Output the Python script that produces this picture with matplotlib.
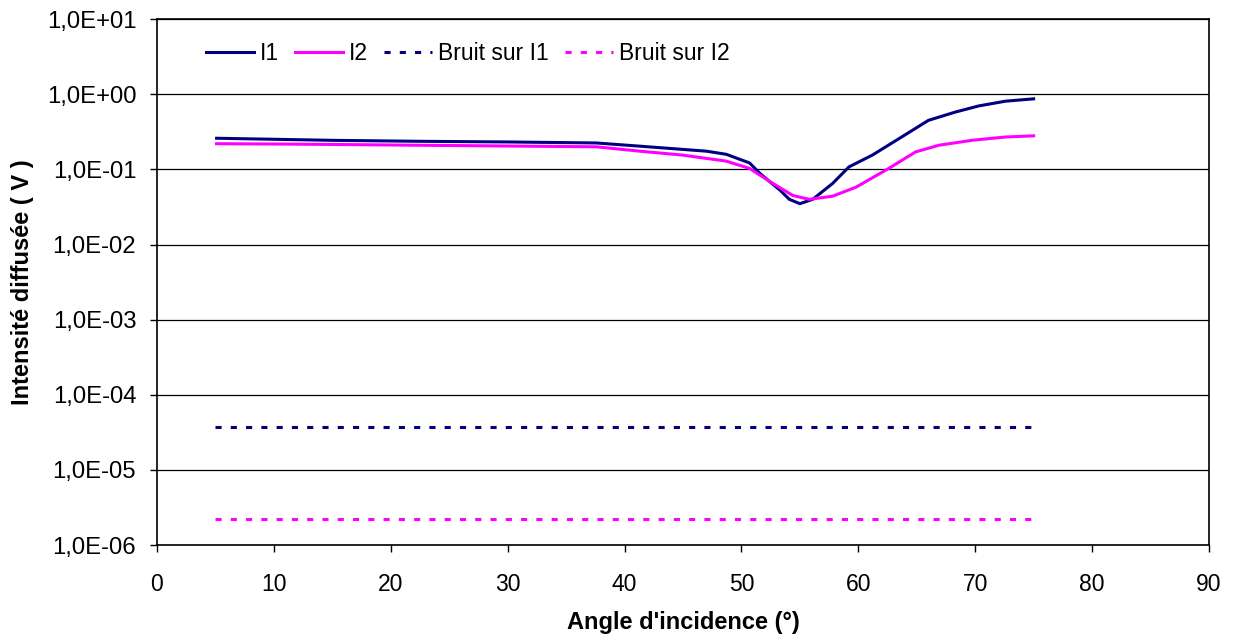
import math
import matplotlib
matplotlib.use("Agg")
import matplotlib.pyplot as plt
from matplotlib.ticker import FixedLocator, FuncFormatter

plt.rcParams['font.family'] = ['Liberation Sans', 'DejaVu Sans']

angle_i1 = [5.1, 10, 15, 22.2, 30, 37.6, 41.3, 47.0, 48.7, 50.7, 51.6, 53.3, 54.1, 55.0, 56.1,
            57.8, 59.2, 61.2, 63.5, 66.0, 68.3, 70.3, 72.6, 75.0]
i1 = [0.26, 0.252, 0.244, 0.237, 0.232, 0.225, 0.204, 0.175, 0.159, 0.122, 0.088, 0.053, 0.040,
      0.035, 0.040, 0.065, 0.108, 0.155, 0.258, 0.45, 0.58, 0.70, 0.81, 0.87]

angle_i2 = [5.1, 10, 15, 22.2, 30, 37.6, 41.3, 45, 48.7, 50.7, 52.7, 54.4, 55.8, 57.8, 59.8,
            62.6, 64.9, 66.9, 69.8, 72.6, 75.0]
i2 = [0.22, 0.218, 0.215, 0.21, 0.205, 0.2, 0.175, 0.155, 0.129, 0.103, 0.065, 0.045, 0.040,
      0.044, 0.058, 0.103, 0.171, 0.21, 0.245, 0.27, 0.28]

noise_angle = [5, 75]
noise_i1 = [3.7e-5, 3.7e-5]
noise_i2 = [2.2e-6, 2.2e-6]

yticks = [1e-6, 1e-5, 1e-4, 1e-3, 1e-2, 1e-1, 1e0, 1e1]
xticks = [0, 10, 20, 30, 40, 50, 60, 70, 80, 90]

navy = '#000080'
magenta = '#FF00FF'

fig = plt.figure(figsize=(12.34, 6.39), dpi=100)
ax = fig.add_axes([0.1272, 0.147, 0.8525, 0.823])

ax.set_yscale('log')
for y in yticks:
    ax.axhline(y, color='#000000', lw=0.9, zorder=0)

dots = (0, (2, 3))
ax.plot(angle_i1, i1, color=navy, lw=2.2, label='I1')
ax.plot(angle_i2, i2, color=magenta, lw=2.2, label='I2')
ax.plot(noise_angle, noise_i1, color=navy, lw=2.2, ls=dots, dash_capstyle='butt', label='Bruit sur I1')
ax.plot(noise_angle, noise_i2, color=magenta, lw=2.2, ls=dots, dash_capstyle='butt', label='Bruit sur I2')

ax.set_xlim(0, 90)
ax.set_ylim(1e-6, 1e1)
ax.xaxis.set_major_locator(FixedLocator(xticks))
ax.yaxis.set_major_locator(FixedLocator(yticks))
ax.yaxis.set_minor_locator(FixedLocator([]))

def fmt(v, pos):
    e = int(round(math.log10(v)))
    sign = '+' if e >= 0 else '-'
    return f"1,0E{sign}{abs(e):02d}"
ax.yaxis.set_major_formatter(FuncFormatter(fmt))

ax.tick_params(axis='both', direction='out', length=5, width=1, labelsize=16.5)
ax.tick_params(axis='y', pad=10, labelsize=17.2)
ax.tick_params(axis='x', pad=15)
for s in ax.spines.values():
    s.set_linewidth(1.2)
    s.set_color('black')

ax.set_xlabel("Angle d'incidence (°)", fontsize=17, fontweight='bold', labelpad=11)
ax.set_ylabel("Intensité diffusée ( V )", fontsize=17, fontweight='bold', labelpad=9)

leg = ax.legend(loc='center left', ncol=4, frameon=False, fontsize=16.5,
                bbox_to_anchor=(0.0466, 0.935), borderaxespad=0, borderpad=0,
                handlelength=2.1, handletextpad=0.26, columnspacing=0.7)

fig.savefig('out.png', dpi=100)
